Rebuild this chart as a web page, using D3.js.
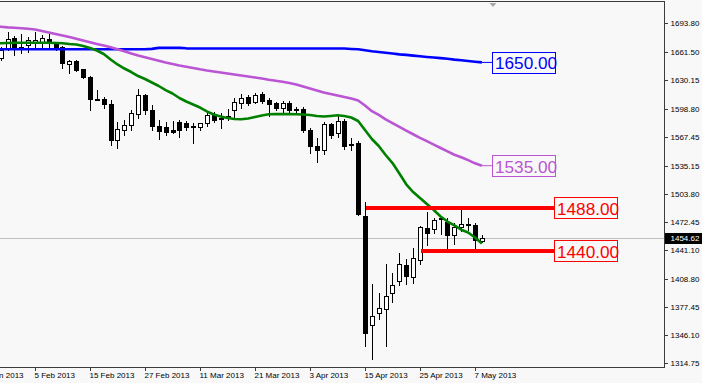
<!DOCTYPE html>
<html><head><meta charset="utf-8">
<script src="https://cdn.jsdelivr.net/npm/d3@7"></script>
<style>
html,body{margin:0;padding:0;background:#f8f8f8;}
svg{display:block;}
text{font-family:"Liberation Sans",Arial,sans-serif;}
</style></head>
<body>
<svg id="chart" width="702" height="383"></svg>
<script>
const dates = ["24 Jan 2013","25 Jan 2013","28 Jan 2013","29 Jan 2013","30 Jan 2013","31 Jan 2013","1 Feb 2013","4 Feb 2013","5 Feb 2013","6 Feb 2013","7 Feb 2013","8 Feb 2013","11 Feb 2013","12 Feb 2013","13 Feb 2013","14 Feb 2013","15 Feb 2013","18 Feb 2013","19 Feb 2013","20 Feb 2013","21 Feb 2013","22 Feb 2013","25 Feb 2013","26 Feb 2013","27 Feb 2013","28 Feb 2013","1 Mar 2013","4 Mar 2013","5 Mar 2013","6 Mar 2013","7 Mar 2013","8 Mar 2013","11 Mar 2013","12 Mar 2013","13 Mar 2013","14 Mar 2013","15 Mar 2013","18 Mar 2013","19 Mar 2013","20 Mar 2013","21 Mar 2013","22 Mar 2013","25 Mar 2013","26 Mar 2013","27 Mar 2013","28 Mar 2013","1 Apr 2013","2 Apr 2013","3 Apr 2013","4 Apr 2013","5 Apr 2013","8 Apr 2013","9 Apr 2013","10 Apr 2013","11 Apr 2013","12 Apr 2013","15 Apr 2013","16 Apr 2013","17 Apr 2013","18 Apr 2013","19 Apr 2013","22 Apr 2013","23 Apr 2013","24 Apr 2013","25 Apr 2013","26 Apr 2013","29 Apr 2013","30 Apr 2013","1 May 2013","2 May 2013","3 May 2013","6 May 2013","7 May 2013","8 May 2013"];

const openP = [1668.0,1669.0,1664.0,1655.1,1664.6,1677.4,1664.6,1669.6,1673.0,1671.9,1676.3,1671.9,1667.4,1648.4,1651.8,1642.3,1633.9,1609.7,1609.1,1603.8,1563.7,1575.4,1580.4,1592.7,1613.5,1597.2,1579.3,1578.2,1574.8,1583.8,1583.0,1579.3,1577.8,1582.3,1591.6,1588.3,1588.3,1597.2,1604.6,1611.6,1606.4,1614.6,1608.8,1604.6,1599.4,1605.3,1598.6,1598.8,1574.8,1557.3,1553.1,1581.2,1571.5,1584.9,1559.2,1560.0,1479.0,1357.5,1370.5,1374.9,1392.8,1406.8,1424.3,1411.3,1429.9,1465.3,1464.1,1476.2,1472.6,1457.8,1466.4,1469.5,1468.9,1451.4];
const highP = [1675.0,1672.0,1669.6,1667.4,1684.1,1679.7,1681.9,1678.5,1684.1,1680.8,1683.0,1673.5,1668.5,1652.9,1652.9,1642.9,1635.0,1619.4,1612.0,1608.3,1584.1,1585.5,1597.2,1620.0,1614.6,1602.2,1585.5,1584.3,1585.2,1586.0,1585.2,1583.0,1583.0,1594.1,1594.6,1593.5,1598.8,1610.9,1614.6,1613.9,1616.1,1616.7,1610.5,1606.6,1607.2,1607.2,1600.8,1600.8,1577.1,1565.4,1583.8,1583.0,1591.6,1587.1,1565.9,1562.9,1494.9,1403.2,1393.5,1425.4,1415.1,1437.4,1430.7,1443.0,1467.8,1483.8,1476.4,1478.2,1476.4,1470.8,1486.4,1477.1,1470.8,1457.8];
const lowP = [1660.0,1655.0,1652.9,1652.9,1664.0,1658.5,1660.7,1661.8,1666.3,1666.3,1666.3,1664.0,1644.0,1638.7,1640.6,1632.5,1597.2,1608.3,1599.4,1558.1,1554.4,1569.3,1574.8,1588.3,1592.7,1574.3,1564.8,1569.3,1571.2,1566.7,1574.8,1560.7,1574.8,1579.3,1584.1,1576.7,1586.5,1589.7,1599.7,1602.7,1604.4,1604.6,1591.0,1597.2,1592.7,1593.8,1595.2,1573.0,1549.2,1539.5,1548.1,1565.9,1567.4,1554.2,1552.6,1480.1,1334.0,1319.2,1363.8,1334.0,1383.4,1402.0,1403.2,1403.9,1425.4,1446.6,1459.7,1458.9,1439.2,1447.8,1462.6,1463.4,1441.1,1450.3];
const closeP = [1669.0,1658.0,1656.2,1664.0,1676.3,1667.4,1667.4,1675.2,1675.2,1677.4,1671.5,1667.4,1649.5,1651.8,1641.7,1633.6,1609.1,1608.6,1603.8,1563.7,1575.6,1580.1,1593.5,1613.9,1597.2,1579.3,1574.1,1572.8,1572.6,1574.8,1578.5,1578.7,1582.3,1591.6,1586.0,1587.6,1591.0,1605.7,1610.9,1604.6,1614.4,1607.7,1603.3,1599.1,1605.3,1596.6,1598.0,1574.3,1557.0,1552.6,1581.2,1569.8,1584.9,1557.0,1558.7,1480.9,1348.9,1367.5,1376.1,1389.8,1402.0,1425.4,1412.1,1431.8,1466.4,1460.4,1474.5,1475.3,1457.8,1466.4,1470.1,1469.2,1452.2,1454.62];

const maFast = [1670.8,1671.0,1671.3,1671.5,1671.8,1672.1,1672.2,1672.2,1672.2,1672.2,1672.2,1671.8,1671.5,1670.7,1670.2,1668.5,1666.3,1663.5,1659.6,1653.4,1647.9,1643.4,1639.5,1635.0,1631.7,1627.8,1623.9,1619.4,1615.5,1610.5,1606.6,1603.3,1599.9,1595.5,1592.1,1589.9,1588.2,1587.1,1586.9,1587.7,1589.3,1591.0,1592.4,1592.5,1592.5,1592.5,1592.4,1592.1,1591.6,1590.5,1589.9,1590.5,1591.2,1590.5,1588.8,1584.9,1574.8,1564.8,1557.0,1547.0,1538.0,1526.3,1514.3,1505.7,1499.0,1492.3,1485.6,1478.4,1472.8,1468.4,1463.7,1460.6,1455.0,1448.3];
const maMid = [1692.4,1691.6,1690.8,1690.0,1689.3,1688.8,1688.2,1687.7,1686.9,1685.2,1683.5,1681.9,1680.2,1678.5,1676.5,1674.6,1672.6,1670.7,1669.0,1667.0,1664.9,1662.6,1660.1,1657.9,1655.9,1654.0,1652.0,1650.1,1648.4,1646.8,1645.4,1644.0,1642.5,1641.2,1640.1,1639.0,1637.8,1636.7,1635.6,1634.5,1633.4,1632.3,1630.9,1629.8,1628.7,1627.3,1625.6,1623.3,1621.1,1618.9,1616.7,1615.0,1613.3,1611.6,1610.0,1607.7,1602.2,1595.8,1591.6,1586.8,1582.6,1578.4,1574.2,1570.1,1566.1,1562.4,1558.6,1554.8,1551.0,1547.3,1544.5,1541.2,1537.7,1535.05];
const maSlow = [1664.8,1664.8,1664.8,1664.8,1664.8,1664.8,1664.8,1664.8,1664.8,1664.8,1664.8,1664.8,1664.8,1664.8,1664.8,1664.8,1664.8,1664.8,1664.8,1664.8,1664.8,1664.8,1664.8,1664.8,1664.8,1665.3,1666.4,1666.4,1666.4,1666.4,1665.9,1665.7,1665.7,1665.7,1665.7,1665.7,1665.7,1665.7,1665.7,1665.7,1665.7,1665.7,1665.7,1665.7,1665.7,1665.7,1665.7,1665.7,1665.7,1665.7,1665.7,1665.7,1665.7,1665.7,1665.2,1664.8,1663.7,1662.6,1661.8,1660.9,1660.1,1659.2,1658.6,1657.8,1657.0,1656.3,1655.7,1655.0,1654.2,1653.3,1652.6,1651.8,1651.0,1650.2];

const yTickLabels = ["1693.80","1661.50","1630.15","1598.80","1567.45","1535.15","1503.80","1472.45","1441.10","1408.80","1377.45","1346.10","1314.75"];
const xTickLabels = ["24 Jan 2013","5 Feb 2013","15 Feb 2013","27 Feb 2013","11 Mar 2013","21 Mar 2013","3 Apr 2013","15 Apr 2013","25 Apr 2013","7 May 2013"];

const maLabelValues = [1650.00, 1535.00];
const levelValues = [1488.00, 1440.00];
const levelStartDates = ["15 Apr 2013", "25 Apr 2013"];
const lastPrice = 1454.62;

// ---------------- drawing ----------------
const W = 702, H = 383;
const frameRight = 664.5, frameTop = 1.5, frameBottom = 367.5;
const svg = d3.select("#chart");
svg.append("rect").attr("width", W).attr("height", H).attr("fill", "#f8f8f8");

const n = dates.length;
const x = d3.scaleLinear().domain([0, n - 1]).range([-20, 481.875]);
const y = d3.scaleLinear().domain([1314.75, 1693.80]).range([363.3, 23.3]);

const defs = svg.append("defs");
defs.append("clipPath").attr("id", "clip").append("rect")
  .attr("x", 0).attr("y", frameTop).attr("width", frameRight).attr("height", frameBottom - frameTop);

const plot = svg.append("g").attr("clip-path", "url(#clip)");

// current price line
const yl = Math.round(y(lastPrice)) + 0.5;
plot.append("line").attr("x1", 0).attr("x2", frameRight).attr("y1", yl).attr("y2", yl)
  .attr("stroke", "#c0c0c0").attr("stroke-width", 1);

// candles
const candles = dates.map((d, i) => ({d, o: openP[i], h: highP[i], l: lowP[i], c: closeP[i], i}));
const cg = plot.append("g").attr("shape-rendering", "crispEdges");
cg.selectAll("line.wick").data(candles).join("line").attr("class", "wick")
  .attr("x1", d => Math.round(x(d.i)) + 0.5).attr("x2", d => Math.round(x(d.i)) + 0.5)
  .attr("y1", d => Math.round(y(d.h))).attr("y2", d => Math.round(y(d.l)) + 1)
  .attr("stroke", "#000").attr("stroke-width", 1);
cg.selectAll("rect.body").data(candles).join("rect").attr("class", "body")
  .attr("x", d => Math.round(x(d.i)) - 1.5)
  .attr("y", d => Math.round(y(Math.max(d.o, d.c))) + 0.5)
  .attr("width", 4)
  .attr("height", d => Math.max(1, Math.round(y(Math.min(d.o, d.c))) - Math.round(y(Math.max(d.o, d.c)))))
  .attr("fill", d => d.c >= d.o ? "#ffffff" : "#000000")
  .attr("stroke", "#000").attr("stroke-width", 1);

// moving averages
const line = d3.line().x((d, i) => x(i)).y(d => y(d));
const maSeries = [
  {vals: maSlow, color: "#0000ff"},
  {vals: maMid, color: "#ba55d3"},
  {vals: maFast, color: "#008000"}
];
maSeries.forEach(s => {
  plot.append("path").attr("d", line(s.vals)).attr("fill", "none")
    .attr("stroke", s.color).attr("stroke-width", 2.6).attr("stroke-linejoin", "round");
});

// MA labels with connectors
const maBoxX = 492.5, boxW = 63, boxH = 21;
const maLabelColors = ["#0000ff", "#ba55d3"];
const maLast = [maSlow[n - 1], maMid[n - 1]];
maLabelValues.forEach((v, k) => {
  const yy = y(maLast[k]);
  svg.append("line").attr("x1", x(n - 1)).attr("x2", maBoxX).attr("y1", yy).attr("y2", yy)
    .attr("stroke", maLabelColors[k]).attr("stroke-width", 1);
  const cy = y(v);
  svg.append("rect").attr("x", maBoxX).attr("y", Math.round(cy - boxH / 2) + 0.5)
    .attr("width", boxW).attr("height", boxH).attr("fill", "#f8f8f8")
    .attr("stroke", maLabelColors[k]).attr("stroke-width", 1);
  svg.append("text").attr("x", maBoxX + 2.5).attr("y", cy + 6.8)
    .attr("font-size", 17.2).attr("fill", maLabelColors[k]).text(v.toFixed(2));
});

// horizontal levels
const levelBoxX = 554.5;
levelValues.forEach((v, k) => {
  const yy = y(v);
  const xs = x(dates.indexOf(levelStartDates[k]));
  svg.append("line").attr("x1", xs + 1).attr("x2", levelBoxX).attr("y1", yy).attr("y2", yy)
    .attr("stroke", "#ff0000").attr("stroke-width", 4);
  svg.append("rect").attr("x", levelBoxX).attr("y", Math.round(yy - boxH / 2) + 0.5)
    .attr("width", boxW).attr("height", boxH).attr("fill", "#f8f8f8")
    .attr("stroke", "#ff0000").attr("stroke-width", 1);
  svg.append("text").attr("x", levelBoxX + 2.5).attr("y", yy + 7.3)
    .attr("font-size", 17.2).attr("fill", "#ff0000").text(v.toFixed(2));
});

// frame
const frame = svg.append("g").attr("shape-rendering", "crispEdges");
frame.append("path")
  .attr("d", `M0,${frameTop}H${frameRight}V${frameBottom}H0`)
  .attr("fill", "none").attr("stroke", "#3c3c3c").attr("stroke-width", 1);

// chart shift marker
svg.append("path").attr("d", "M489.5,3 L496.5,3 L493,7 Z").attr("fill", "#a8a8a8");

// y axis
const yAxis = d3.axisRight(y)
  .tickValues(yTickLabels.map(Number))
  .tickFormat((d, i) => yTickLabels[i])
  .tickSize(3).tickSizeOuter(0).tickPadding(3);
const ya = svg.append("g").attr("transform", `translate(${frameRight},0)`).call(yAxis);
ya.select(".domain").remove();
ya.selectAll("line").attr("stroke", "#3c3c3c").attr("shape-rendering", "crispEdges");
ya.selectAll("text").attr("font-size", 8).attr("fill", "#000")
  .attr("font-family", "'Liberation Sans',Arial,sans-serif");

// x axis
const xIdx = xTickLabels.map(s => dates.indexOf(s));
const xAxis = d3.axisBottom(x)
  .tickValues(xIdx)
  .tickFormat((d, i) => xTickLabels[i])
  .tickSize(3).tickSizeOuter(0).tickPadding(2);
const xa = svg.append("g").attr("transform", `translate(0,${frameBottom})`).call(xAxis);
xa.select(".domain").remove();
xa.selectAll(".tick").attr("transform", d => `translate(${Math.round(x(d)) + 0.5},0)`);
xa.selectAll("line").attr("stroke", "#3c3c3c").attr("shape-rendering", "crispEdges");
xa.selectAll("text").attr("font-size", 8).attr("fill", "#000").attr("text-anchor", "start")
  .attr("x", -1).attr("font-family", "'Liberation Sans',Arial,sans-serif");

// current price tag
svg.append("rect").attr("x", frameRight + 0.5).attr("y", Math.round(y(lastPrice)) - 5)
  .attr("width", W - frameRight).attr("height", 11).attr("fill", "#000");
svg.append("text").attr("x", 670.5).attr("y", y(lastPrice) + 3)
  .attr("font-size", 8).attr("fill", "#fff").text(lastPrice.toFixed(2));
</script>
</body></html>
